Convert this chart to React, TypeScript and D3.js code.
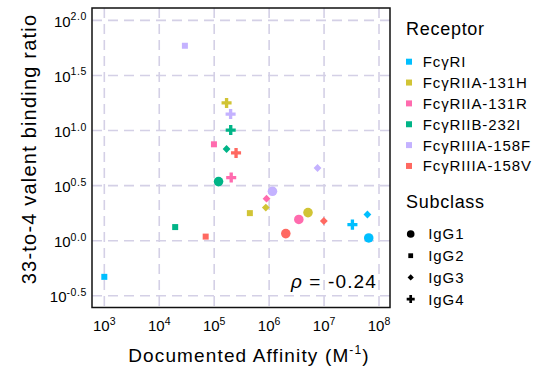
import React from "react";
import { scaleLog, symbol, symbolCircle, symbolSquare, symbolCross } from "d3";

const receptors = ["FcγRI", "FcγRIIA-131H", "FcγRIIA-131R", "FcγRIIB-232I", "FcγRIIIA-158F", "FcγRIIIA-158V"];
const receptorColors = ["#00BFFF", "#D1C435", "#FF6BAE", "#00B487", "#C4B2FF", "#FF6961"];
const subclasses = ["IgG1", "IgG2", "IgG3", "IgG4"];

// affinity (M^-1) and 33-to-4 ratio, in subclass order IgG1..IgG4, one row per receptor
const affinity = [
  [6.5e7, 1e3, 6.15e7, 3.28e7],
  [5.1e6, 4.46e5, 8.7e5, 1.68e5],
  [3.47e6, 9.9e4, 8.97e5, 2.04e5],
  [1.2e5, 1.95e4, 1.68e5, 2e5],
  [1.15e6, 2.93e4, 7.6e6, 1.99e5],
  [2.01e6, 7e4, 9.9e6, 2.5e5],
];
const ratio = [
  [1.06, 0.47, 1.73, 1.4],
  [1.8, 1.78, 2.0, 17.8],
  [1.56, 7.5, 2.41, 3.74],
  [3.44, 1.33, 6.8, 10.1],
  [2.81, 58.8, 4.57, 14.1],
  [1.16, 1.09, 1.51, 6.26],
];

const xTicks = [3, 4, 5, 6, 7, 8];
const yTicks = ["2.0", "1.5", "1.0", "0.5", "0.0", "-0.5"];
const rho = "-0.24";

const W = 549, H = 372;
const box = { left: 92, right: 390, top: 8, bottom: 307.5 };

const x = scaleLog().domain([Math.pow(10, 2.776), Math.pow(10, 8.2)]).range([box.left, box.right]);
const y = scaleLog().domain([Math.pow(10, -0.606), Math.pow(10, 2.112)]).range([box.bottom, box.top]);

const font = "'Liberation Sans', Arial, Helvetica, sans-serif";
const grid = "#d4d0e6";

function marker(sub: number, scale = 1) {
  if (sub === 0) return symbol(symbolCircle, 72 * scale * scale)();
  if (sub === 1) return symbol(symbolSquare, 36 * scale * scale)();
  if (sub === 3) return symbol(symbolCross, 56 * scale * scale)();
  const r = 3.9 * scale;
  return `M0,${-r}L${r},0L0,${r}L${-r},0Z`;
}

export default function App() {
  const pts: { x: number; y: number; r: number; s: number }[] = [];
  affinity.forEach((row, r) =>
    row.forEach((a, s) => pts.push({ x: x(a), y: y(ratio[r][s]), r, s }))
  );

  return (
    <svg width={W} height={H} style={{ position: "absolute", left: 0, top: 0 }} fontFamily={font}>
      <rect width={W} height={H} fill="#fff" />
      {/* grid */}
      {xTicks.map((t) => (
        <line key={"gx" + t} x1={x(Math.pow(10, t))} x2={x(Math.pow(10, t))} y1={box.top} y2={box.bottom}
          stroke={grid} strokeWidth={1.6} strokeDasharray="10,6" />
      ))}
      {yTicks.map((t) => (
        <line key={"gy" + t} y1={y(Math.pow(10, +t))} y2={y(Math.pow(10, +t))} x1={box.left} x2={box.right}
          stroke={grid} strokeWidth={1.6} strokeDasharray="10,6" />
      ))}
      <rect x={box.left} y={box.top} width={box.right - box.left} height={box.bottom - box.top}
        fill="none" stroke="#111" strokeWidth={1.5} />

      {/* x tick labels */}
      {xTicks.map((t) => (
        <text key={"tx" + t} x={x(Math.pow(10, t))} y={331} textAnchor="middle" fontSize={15}>
          10<tspan fontSize={10.5} dy={-6.5}>{t}</tspan>
        </text>
      ))}
      {/* y tick labels */}
      {yTicks.map((t) => (
        <text key={"ty" + t} x={87} y={y(Math.pow(10, +t)) + 6.5} textAnchor="end" fontSize={15}>
          10<tspan fontSize={10.5} dy={-6.5} letterSpacing="0.6">{t}</tspan>
        </text>
      ))}

      {/* points */}
      {pts.map((p, i) => (
        <path key={i} d={marker(p.s)!} transform={`translate(${p.x},${p.y})`} fill={receptorColors[p.r]} />
      ))}

      <text x={377} y={288} textAnchor="end" fontSize={19} letterSpacing="0.06em">
        <tspan fontStyle="italic">ρ</tspan> = {rho}
      </text>

      {/* axis titles */}
      <text x={249} y={362} textAnchor="middle" fontSize={19} letterSpacing="0.06em">
        Documented Affinity (M<tspan fontSize={12} dy={-8}>-1</tspan><tspan dy={8}>)</tspan>
      </text>
      <text transform="translate(36,149) rotate(-90)" textAnchor="middle" fontSize={20} letterSpacing="0.06em">
        33-to-4 valent binding ratio
      </text>

      {/* legend: receptor */}
      <text x={406} y={35} fontSize={18} letterSpacing="0.04em">Receptor</text>
      {receptors.map((r, i) => {
        const cy = 61.7 + i * 20.85;
        return (
          <g key={r}>
            <rect x={406} y={cy - 3} width={6} height={6} fill={receptorColors[i]} />
            <text x={422.7} y={cy + 5.4} fontSize={15} letterSpacing="0.06em">{r}</text>
          </g>
        );
      })}

      {/* legend: subclass */}
      <text x={406} y={208.3} fontSize={18} letterSpacing="0.04em">Subclass</text>
      {subclasses.map((s, i) => {
        const cy = 234 + i * 21.7;
        return (
          <g key={s}>
            <path d={marker(i, 0.8)!} transform={`translate(${410.7},${cy})`} fill="#000" />
            <text x={428.3} y={cy + 5.4} fontSize={15} letterSpacing="0.06em">{s}</text>
          </g>
        );
      })}
    </svg>
  );
}
